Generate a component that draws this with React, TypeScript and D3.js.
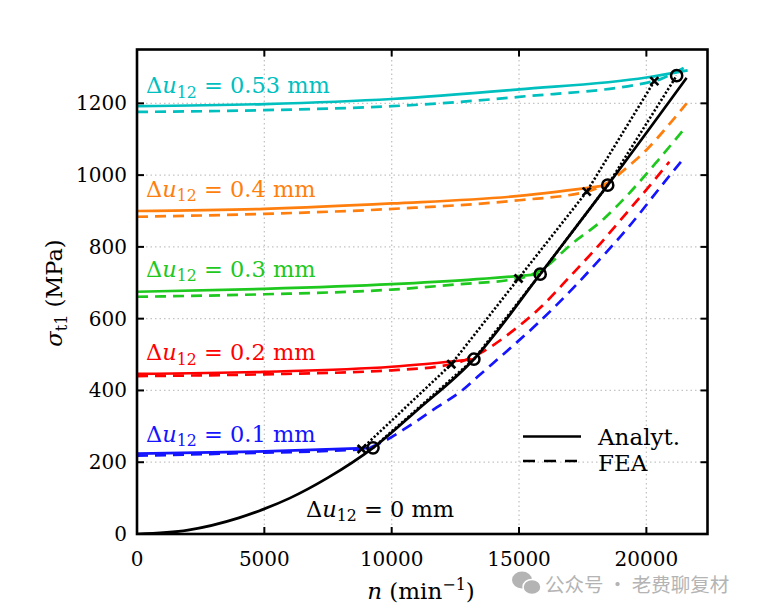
import React from "react";
import * as d3 from "d3";

type P = [number, number];

const xTicks = [0, 5000, 10000, 15000, 20000];
const yTicks = [0, 200, 400, 600, 800, 1000, 1200];

const colors = ["#1414ff", "#ff0000", "#1ec81e", "#ff7f0e", "#00bfbf"];
const labels = ["0.1", "0.2", "0.3", "0.4", "0.53"];

const analyt0: P[] = [
  [0, 0], [2000, 11], [4000, 45], [5000, 70], [6000, 100], [7500, 157],
  [9267, 240], [11000, 345], [13227, 487], [15831, 724], [18482, 972], [21580, 1271],
];

const analytSolid: P[][] = [
  [[0, 224], [5000, 230], [9267, 240]],
  [[0, 446], [5000, 452], [10000, 466], [13227, 487]],
  [[0, 675], [5000, 683], [10000, 696], [13000, 708], [15831, 724]],
  [[0, 900], [5000, 906], [10000, 921], [15000, 942], [18482, 972]],
  [[0, 1192], [5000, 1198], [10000, 1212], [15000, 1239], [20000, 1272], [21620, 1292]],
];

const feaDashed: P[][] = [
  [[0, 218], [4000, 225], [8820, 236], [9600, 255], [10444, 290], [11752, 352], [12797, 402],
   [13451, 443], [14498, 508], [15737, 587], [17243, 694], [18027, 754], [19203, 847],
   [20770, 986], [21412, 1042]],
  [[0, 440], [5000, 445], [10000, 456], [12340, 473], [13500, 505], [14627, 559], [15870, 633],
   [17047, 721], [18027, 796], [19203, 893], [20314, 986], [20900, 1037]],
  [[0, 661], [5000, 668], [10000, 681], [12500, 695], [14980, 712], [16000, 742], [17010, 805],
   [18314, 877], [19333, 950], [20444, 1040], [21556, 1135]],
  [[0, 884], [5000, 892], [10340, 907], [15000, 930], [17659, 954], [18500, 980], [19300, 1025],
   [20000, 1070], [20700, 1125], [21580, 1200]],
  [[0, 1176], [5000, 1181], [10000, 1192], [15000, 1218], [20314, 1262], [21000, 1282], [21560, 1302]],
];

const liftAnalyt: P[] = [[9267, 240], [13227, 487], [15831, 724], [18482, 972], [21188, 1277]];
const liftFEA: P[] = [[8820, 237], [12340, 473], [14980, 712], [17659, 954], [20314, 1262]];

const labelY = [441.5, 360, 276.5, 196.5, 93];

const W = 766, H = 614;
const L = 137, R = 707.5, T = 49.5, B = 534;

const FONT = "'DejaVu Serif', serif";

function MathLabel({ x, y, value, color, size }: { x: number; y: number; value: string; color: string; size: number }) {
  return (
    <text x={x} y={y} fill={color} fontFamily={FONT} fontSize={size}>
      <tspan>Δ</tspan>
      <tspan fontStyle="italic">u</tspan>
      <tspan fontSize={size * 0.7} dy={size * 0.22}>12</tspan>
      <tspan dy={-size * 0.22}>{" = " + value + " mm"}</tspan>
    </text>
  );
}

export default function App() {
  const x = d3.scaleLinear().domain([0, 22400]).range([L, R]);
  const y = d3.scaleLinear().domain([0, 1350]).range([B, T]);
  const line = d3.line<P>().x((d) => x(d[0])).y((d) => y(d[1])).curve(d3.curveMonotoneX);
  const straight = d3.line<P>().x((d) => x(d[0])).y((d) => y(d[1]));

  const dash = "11 7";
  const lw = 2.7;

  return (
    <svg width={W} height={H} style={{ position: "absolute", left: 0, top: 0, background: "#fff" }}>
      <defs>
        <clipPath id="plot">
          <rect x={L} y={T} width={R - L} height={B - T} />
        </clipPath>
      </defs>
      <rect x={0} y={0} width={W} height={H} fill="#fff" />
      {/* grid */}
      <g stroke="#c4c4c4" strokeWidth={1.3} strokeDasharray="1.5 3">
        {xTicks.filter((t) => t > 0).map((t) => (
          <line key={"gx" + t} x1={x(t)} x2={x(t)} y1={B} y2={T} />
        ))}
        {yTicks.filter((t) => t > 0).map((t) => (
          <line key={"gy" + t} x1={L} x2={R} y1={y(t)} y2={y(t)} />
        ))}
      </g>
      <g clipPath="url(#plot)" fill="none" strokeLinecap="butt">
        {feaDashed.map((s, i) => (
          <path key={"fd" + i} d={line(s) || ""} stroke={colors[i]} strokeWidth={lw} strokeDasharray={dash} />
        ))}
        {analytSolid.map((s, i) => (
          <path key={"as" + i} d={line(s) || ""} stroke={colors[i]} strokeWidth={lw} />
        ))}
        <path d={line(analyt0) || ""} stroke="#000" strokeWidth={lw} />
        <path d={straight(liftFEA) || ""} stroke="#000" strokeWidth={2.6} strokeDasharray="2.2 2" />
        <path d={straight(liftAnalyt) || ""} stroke="#000" strokeWidth={2.6} strokeDasharray="2.2 2" />
        {liftAnalyt.map((p, i) => (
          <circle key={"c" + i} cx={x(p[0])} cy={y(p[1])} r={5.6} stroke="#000" strokeWidth={2.5} fill="none" />
        ))}
        {liftFEA.map((p, i) => (
          <g key={"x" + i} stroke="#000" strokeWidth={2.7}>
            <line x1={x(p[0]) - 4} x2={x(p[0]) + 4} y1={y(p[1]) - 4} y2={y(p[1]) + 4} />
            <line x1={x(p[0]) - 4} x2={x(p[0]) + 4} y1={y(p[1]) + 4} y2={y(p[1]) - 4} />
          </g>
        ))}
      </g>
      {/* annotations */}
      {labels.map((lab, i) => (
        <MathLabel key={"l" + i} x={146} y={labelY[i]} value={lab} color={colors[i]} size={22.5} />
      ))}
      <MathLabel x={306} y={516.5} value="0" color="#000" size={22.5} />
      {/* legend */}
      <line x1={523} x2={581} y1={436.5} y2={436.5} stroke="#000" strokeWidth={lw} />
      <line x1={523} x2={581} y1={461} y2={461} stroke="#000" strokeWidth={lw} strokeDasharray="12 9" />
      <text x={598} y={445} fontFamily={FONT} fontSize={23}>Analyt.</text>
      <text x={598} y={470.5} fontFamily={FONT} fontSize={23}>FEA</text>
      {/* ticks */}
      <g stroke="#000" strokeWidth={2}>
        {xTicks.filter((t) => t > 0).map((t) => (
          <g key={"tx" + t}>
            <line x1={x(t)} x2={x(t)} y1={B} y2={B - 7} />
            <line x1={x(t)} x2={x(t)} y1={T} y2={T + 7} />
          </g>
        ))}
        {yTicks.filter((t) => t > 0).map((t) => (
          <g key={"ty" + t}>
            <line x1={L} x2={L + 7} y1={y(t)} y2={y(t)} />
            <line x1={R} x2={R - 7} y1={y(t)} y2={y(t)} />
          </g>
        ))}
      </g>
      <rect x={L} y={T} width={R - L} height={B - T} fill="none" stroke="#000" strokeWidth={2.6} />
      {/* tick labels */}
      <g fontFamily={FONT} fontSize={20} fill="#000">
        {xTicks.map((t) => (
          <text key={"lx" + t} x={x(t)} y={566} textAnchor="middle">{String(t)}</text>
        ))}
        {yTicks.map((t) => (
          <text key={"ly" + t} x={127} y={y(t) + 7} textAnchor="end">{String(t)}</text>
        ))}
      </g>
      {/* axis labels */}
      <text x={421} y={599} textAnchor="middle" fontFamily={FONT} fontSize={23}>
        <tspan fontStyle="italic">n</tspan>
        <tspan>{" (min"}</tspan>
        <tspan fontSize={16} dy={-9}>{"−1"}</tspan>
        <tspan dy={9}>)</tspan>
      </text>
      <text transform="translate(62,293) rotate(-90)" textAnchor="middle" fontFamily={FONT} fontSize={22.5}>
        <tspan fontStyle="italic">σ</tspan>
        <tspan fontSize={16} dy={5}>t1</tspan>
        <tspan dy={-5}>{" (MPa)"}</tspan>
      </text>
      {/* watermark */}
      <g fill="#b4b4b4">
        <ellipse cx={522} cy={580} rx={10} ry={8.5} />
        <ellipse cx={532} cy={587} rx={9} ry={7.5} stroke="#fff" strokeWidth={1.5} />
        <text x={545} y={592} fontFamily="'Noto Sans CJK SC', sans-serif" fontSize={19.5}>公众号 · 老费聊复材</text>
      </g>
    </svg>
  );
}
